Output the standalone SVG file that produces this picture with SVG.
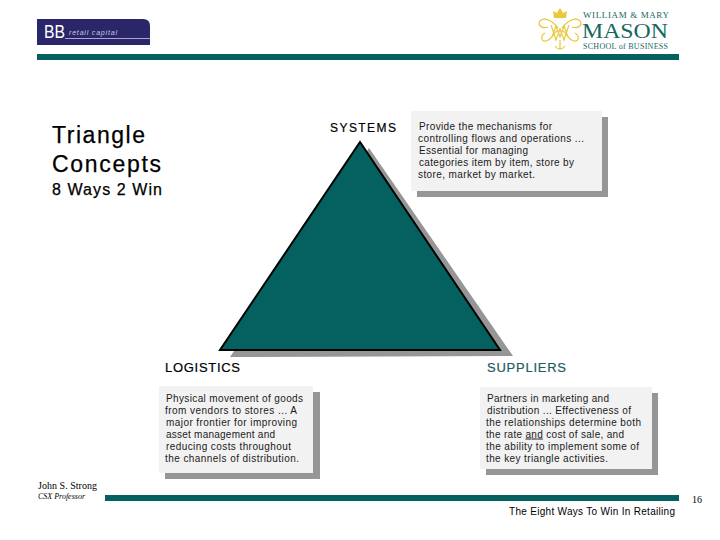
<svg xmlns="http://www.w3.org/2000/svg" width="720" height="540" viewBox="0 0 720 540">
<style>
text{font-family:"Liberation Sans",Arial,sans-serif;fill:#000}
.b{font-size:10px;fill:#1a1a1a}
.h{font-size:13px;stroke:#000;stroke-width:.2}
.t{stroke:#000;stroke-width:.25}
.s{fill:#969696}
.p{fill:#f2f2f2}
.bar{fill:#04615f}
.sf{font-family:"Liberation Serif","Times New Roman",serif}
.lg{font-family:"Liberation Serif","Times New Roman",serif;fill:#17685f}
.gold{fill:none;stroke:#e8c93c;stroke-width:1.2}
</style>
<rect width="720" height="540" fill="#fff"/>
<g id="logo-bb">
<path d="M37 19H143Q150 19 150 26V45H37Z" fill="#2a2669"/>
<rect x="65" y="38" width="85" height="1" fill="#a9a6cc"/>
<text x="44" y="38" style="font-size:18px;fill:#fff" textLength="21" lengthAdjust="spacingAndGlyphs">BB</text>
<text x="69" y="35" style="font-size:7px;font-style:italic;fill:#c9c7e2" textLength="48">retail capital</text>
</g>
<g id="logo-mason">
<path class="gold" d="M558 28C552 20 544 17 540 21C537 26 543 29 548 27M562 28C568 20 576 17 580 21C583 26 577 29 572 27"/>
<path class="gold" d="M545 33C540 36 541 42 546 41C551 40 553 34 558 30M575 33C580 36 579 42 574 41C569 40 567 34 562 30"/>
<path class="gold" d="M551 25L556 40L560 29L564 40L569 25M552 37L556 26L560 37L564 26L568 37M560 40L560 49M555 46C558 50 562 50 565 46"/>
<path d="M554 18L553 11L557 13L560 8L563 13L567 11L566 18Z" fill="#e8c93c"/>
<text class="lg" x="583" y="18" style="font-size:9px" textLength="86">WILLIAM &amp; MARY</text>
<text class="lg" x="582" y="37.500" style="font-size:20px" textLength="86" lengthAdjust="spacingAndGlyphs">MASON</text>
<text class="lg" x="583" y="49" style="font-size:8px" textLength="85">SCHOOL of BUSINESS</text>
</g>
<rect class="bar" x="37" y="54" width="642" height="6"/>
<g id="title">
<text class="t" x="52" y="143" style="font-size:23px" textLength="93">Triangle</text>
<text class="t" x="52" y="172" style="font-size:23px" textLength="109">Concepts</text>
<text class="t" x="52" y="195" style="font-size:16px" textLength="110">8 Ways 2 Win</text>
</g>
<g id="triangle">
<polygon class="s" points="369,148 513,356 230,357"/>
<polygon points="360,142 500,350 220,350" fill="#04615f" stroke="#000" stroke-width="2"/>
</g>
<g id="systems">
<text class="h" x="330" y="132" style="font-size:12px" textLength="66">SYSTEMS</text>
<rect class="s" x="417" y="117" width="191" height="80"/>
<rect class="p" x="411" y="111" width="191" height="80"/>
<text class="b" x="419" y="129.500" textLength="133">Provide the mechanisms for</text>
<text class="b" x="418" y="141.500" textLength="166">controlling flows and operations ...</text>
<text class="b" x="419" y="153.500" textLength="109">Essential for managing</text>
<text class="b" x="419" y="165.500" textLength="155">categories item by item, store by</text>
<text class="b" x="418" y="177.500" textLength="117">store, market by market.</text>
</g>
<g id="logistics">
<text class="h" x="165" y="372" textLength="75">LOGISTICS</text>
<rect class="s" x="165" y="392" width="155" height="87"/>
<rect class="p" x="159" y="386" width="154" height="87"/>
<text class="b" x="166" y="401.500" textLength="137">Physical movement of goods</text>
<text class="b" x="165" y="413.500" textLength="132">from vendors to stores ... A</text>
<text class="b" x="166" y="425.500" textLength="131">major frontier for improving</text>
<text class="b" x="166" y="437.500" textLength="109">asset management and</text>
<text class="b" x="166" y="449.500" textLength="125">reducing costs throughout</text>
<text class="b" x="165" y="461.500" textLength="134">the channels of distribution.</text>
</g>
<g id="suppliers">
<text class="h" x="487" y="372" style="fill:#1f5b60;stroke:#1f5b60" textLength="79">SUPPLIERS</text>
<rect class="s" x="486" y="393" width="172" height="82"/>
<rect class="p" x="480" y="387" width="172" height="82"/>
<text class="b" x="487" y="401.500" textLength="122">Partners in marketing and</text>
<text class="b" x="487" y="413.500" textLength="144">distribution ... Effectiveness of</text>
<text class="b" x="486" y="425.500" textLength="155">the relationships determine both</text>
<text class="b" x="486" y="437.500" textLength="138">the rate <tspan text-decoration="underline">and</tspan> cost of sale, and</text>
<text class="b" x="486" y="449.500" textLength="153">the ability to implement some of</text>
<text class="b" x="486" y="461.500" textLength="122">the key triangle activities.</text>
</g>
<g id="footer">
<rect class="bar" x="105" y="495" width="574" height="6"/>
<text class="sf" x="38" y="489" style="font-size:10px" textLength="59">John S. Strong</text>
<text class="sf" x="38" y="499" style="font-size:8px;font-style:italic" textLength="47">CSX Professor</text>
<text class="sf" x="692" y="503" style="font-size:10px" textLength="10">16</text>
<text x="509" y="515" style="font-size:10px" textLength="166">The Eight Ways To Win In Retailing</text>
</g>
</svg>
